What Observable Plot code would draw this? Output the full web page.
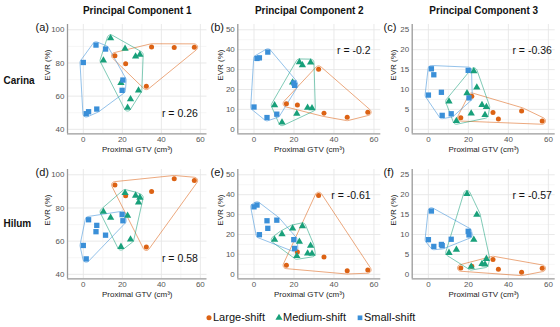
<!DOCTYPE html>
<html><head><meta charset="utf-8">
<script src="https://cdn.jsdelivr.net/npm/d3@7"></script>
<script src="https://cdn.jsdelivr.net/npm/@observablehq/plot@0.6"></script>
<style>
body{margin:0;background:#fff;font-family:"Liberation Sans",Arial,sans-serif;}
#wrap{position:relative;width:560px;height:327px;overflow:hidden;background:#fff;}
.panel{position:absolute;}
.panel svg{overflow:visible !important;background:transparent !important;max-width:none !important;}
#legend{position:absolute;top:311px;left:206px;display:flex;align-items:center;font-size:11px;color:#111;white-space:nowrap;}
#legend .item{display:flex;align-items:center;margin-right:11px;}
#legend .sym{display:inline-block;margin-right:1px;}
</style></head>
<body><div id="wrap"></div>
<script>
// ---- data ----
const groups = ["Large-shift", "Medium-shift", "Small-shift"];
const colors = ["#DC6214", "#18A07A", "#3A8FD8"];
const symbols = ["circle", "triangle", "square"];
const rowNames = ["Carina", "Hilum"];
const colTitles = ["Principal Component 1", "Principal Component 2", "Principal Component 3"];
const panelLetters = [["(a)", "(b)", "(c)"], ["(d)", "(e)", "(f)"]];
const rLabels = [["r = 0.26", "r = -0.2", "r = -0.36"], ["r = 0.58", "r = -0.61", "r = -0.57"]];

// Proximal GTV (cm3) per patient in each group
const gtvLarge = [16.2, 21.7, 32.3, 35.0, 46.6, 56.9];
const gtvMedium = [10.3, 14.0, 19.3, 21.4, 22.7, 24.2, 26.8, 28.3, 29.0];
const gtvSmall = [0.0, 1.5, 2.7, 6.5, 6.9, 11.4, 19.9, 20.3];

// EVR (%) — Carina
const carinaPC1Large = [84.3, 79.5, 65.9, 89.6, 89.4, 89.5];
const carinaPC1Medium = [81.5, 95.0, 68.0, 88.6, 53.0, 58.2, 83.9, 63.5, 85.0];
const carinaPC1Small = [80.3, 49.4, 50.6, 90.8, 52.2, 88.4, 63.5, 69.7];
const carinaPC2Large = [12.9, 12.2, 30.2, 8.1, 6.0, 8.6];
const carinaPC2Medium = [12.1, 3.5, 23.6, 7.9, 33.7, 32.2, 10.9, 33.6, 10.6];
const carinaPC2Small = [11.2, 35.6, 35.9, 5.9, 38.8, 7.6, 23.3, 22.1];
const carinaPC3Large = [2.9, 8.3, 4.2, 2.6, 4.6, 2.1];
const carinaPC3Medium = [7.0, 2.1, 9.1, 4.0, 14.6, 10.5, 6.1, 3.6, 5.6];
const carinaPC3Small = [8.6, 15.2, 13.7, 9.3, 3.5, 3.9, 14.8, 7.9];
// EVR (%) — Hilum
const hilumPC1Large = [93.9, 87.3, 56.4, 89.9, 97.6, 96.5];
const hilumPC1Medium = [77.8, 74.1, 56.6, 89.1, 75.4, 61.0, 87.5, 83.4, 86.3];
const hilumPC1Small = [57.4, 49.3, 72.9, 65.7, 69.5, 63.6, 76.0, 72.3];
const hilumPC2Large = [4.5, 11.2, 39.6, 8.7, 1.8, 2.2];
const hilumPC2Medium = [17.4, 20.2, 23.1, 9.2, 16.4, 24.2, 10.5, 14.4, 10.4];
const hilumPC2Small = [33.9, 34.8, 19.9, 26.9, 23.1, 27.2, 17.4, 13.0];
const hilumPC3Large = [1.6, 2.0, 3.7, 1.3, 0.5, 1.5];
const hilumPC3Medium = [5.4, 6.2, 20.2, 1.9, 8.7, 15.0, 2.6, 2.5, 3.9];
const hilumPC3Small = [8.7, 15.9, 7.0, 7.5, 7.2, 8.8, 10.8, 9.9];

const xTicks = [0, 20, 40, 60];
const xMinor = [10, 30, 50];
const yTicksByCol = [[40, 60, 80, 100], [0, 10, 20, 30, 40, 50], [0, 5, 10, 15, 20, 25]];
const yMinorByCol = [[50, 70, 90], [5, 15, 25, 35, 45], [2.5, 7.5, 12.5, 17.5, 22.5]];

const gtv = [gtvLarge, gtvMedium, gtvSmall];
const evr = [
  [[carinaPC1Large, carinaPC1Medium, carinaPC1Small], [carinaPC2Large, carinaPC2Medium, carinaPC2Small], [carinaPC3Large, carinaPC3Medium, carinaPC3Small]],
  [[hilumPC1Large, hilumPC1Medium, hilumPC1Small], [hilumPC2Large, hilumPC2Medium, hilumPC2Small], [hilumPC3Large, hilumPC3Medium, hilumPC3Small]]
];

// ---- layout ----
const xDomain = [-8.1, 63.4];
const cols = [
  {left: 0, ml: 67, fw: 139.5, mr: 11.5, ydom: [37.3, 103.2], ylabDx: -20.3, letterDx: -32, rx: 58.7, ry: 49.6},
  {left: 218, ml: 19.3, fw: 143, mr: 11.7, ydom: [-2.26, 52.66], ylabDx: -17.3, letterDx: -27.3, rx: 58.3, ry: 39.5},
  {left: 392, ml: 19.7, fw: 143, mr: 5.3, ydom: [-1.13, 26.33], ylabDx: -18.4, letterDx: -28.7, rx: 61.7, ry: 19.8}
];
const rows = [{top: 0}, {top: 145}];
const MT = 24, FH = 109.3, MB = 30;

// rounded, slightly expanded convex hull (computed in pixel space)
function roundedHull(xs, ys, kx, ky, rad) {
  const pts = xs.map((x, i) => [x * kx, ys[i] * ky]);
  const h = d3.polygonHull(pts);
  const n = h.length;
  let area = 0;
  for (let i = 0; i < n; i++) { const j = (i + 1) % n; area += h[i][0] * h[j][1] - h[j][0] * h[i][1]; }
  const ccw = area > 0;
  const out = [];
  const norm = (e) => { const l = Math.hypot(e[0], e[1]); return ccw ? [e[1] / l, -e[0] / l] : [-e[1] / l, e[0] / l]; };
  for (let i = 0; i < n; i++) {
    const p = h[(i - 1 + n) % n], c = h[i], q = h[(i + 1) % n];
    const n1 = norm([c[0] - p[0], c[1] - p[1]]), n2 = norm([q[0] - c[0], q[1] - c[1]]);
    let a1 = Math.atan2(n1[1], n1[0]), a2 = Math.atan2(n2[1], n2[0]);
    if (ccw) { while (a2 < a1) a2 += 2 * Math.PI; } else { while (a2 > a1) a2 -= 2 * Math.PI; }
    const steps = 10;
    for (let s = 0; s <= steps; s++) {
      const a = a1 + (a2 - a1) * s / steps;
      out.push({x: (c[0] + rad * Math.cos(a)) / kx, y: (c[1] + rad * Math.sin(a)) / ky});
    }
  }
  return out;
}

const wrap = document.getElementById("wrap");
rows.forEach((row, ri) => {
  cols.forEach((col, ci) => {
    const kx = col.fw / (xDomain[1] - xDomain[0]);
    const ky = FH / (col.ydom[1] - col.ydom[0]);
    const marks = [
      Plot.ruleX(xMinor, {stroke: "#f0f0f0", strokeWidth: 0.6}),
      Plot.ruleY(yMinorByCol[ci], {stroke: "#f0f0f0", strokeWidth: 0.6}),
      Plot.ruleX(xTicks, {stroke: "#e6e6e6", strokeWidth: 0.9}),
      Plot.ruleY(yTicksByCol[ci], {stroke: "#e6e6e6", strokeWidth: 0.9}),
      Plot.ruleX([xDomain[0]], {stroke: "#9a9a9a", strokeWidth: 1.3}),
      Plot.ruleY([col.ydom[0]], {stroke: "#9a9a9a", strokeWidth: 1.3})
    ];
    groups.forEach((g, gi) => {
      marks.push(Plot.line(roundedHull(gtv[gi], evr[ri][ci][gi], kx, ky, 3.3), {
        x: "x", y: "y", stroke: colors[gi], strokeOpacity: 0.55, strokeWidth: 1, curve: "linear-closed"
      }));
    });
    groups.forEach((g, gi) => {
      const data = gtv[gi].map((x, i) => ({x, y: evr[ri][ci][gi][i]}));
      marks.push(Plot.dot(data, {
        x: "x", y: "y", symbol: symbols[gi], fill: colors[gi], stroke: "none",
        r: gi === 0 ? 2.5 : gi === 1 ? 2.7 : 3.0
      }));
    });
    marks.push(
      Plot.text([rLabels[ri][ci]], {x: col.rx, y: col.ry, text: d => d, textAnchor: "end", fontSize: 10.5, fill: "#111"}),
      Plot.text([panelLetters[ri][ci]], {frameAnchor: "top-left", text: d => d, textAnchor: "start", dx: col.letterDx, dy: -1.4, fontSize: 11, fill: "#111"}),
      Plot.text(["EVR (%)"], {frameAnchor: "left", text: d => d, rotate: -90, dx: col.ylabDx, dy: 1.5, fontSize: 8, fill: "#222"}),
      Plot.text(["Proximal GTV (cm³)"], {frameAnchor: "bottom", text: d => d, dy: 18.7, fontSize: 8, fill: "#222"})
    );
    if (ri === 0) {
      marks.push(Plot.text([colTitles[ci]], {frameAnchor: "top", text: d => d, dy: -17.2, fontSize: 10, fontWeight: "bold", fill: "#111"}));
    }
    if (ci === 0) {
      marks.push(Plot.text([rowNames[ri]], {frameAnchor: "left", text: d => d, textAnchor: "start", dx: -64, dy: ri === 0 ? 1.5 : -0.8, fontSize: 10, fontWeight: "bold", fill: "#111"}));
    }
    const chart = Plot.plot({
      width: col.ml + col.fw + col.mr,
      height: MT + FH + MB,
      marginLeft: col.ml, marginRight: col.mr, marginTop: MT, marginBottom: MB,
      style: {background: "transparent", overflow: "visible", fontFamily: "'Liberation Sans', Arial, sans-serif", fontSize: "8px", color: "#555"},
      x: {domain: xDomain, ticks: xTicks, tickSize: 0, tickPadding: 3, label: null, tickFormat: d => String(d)},
      y: {domain: col.ydom, ticks: yTicksByCol[ci], tickSize: 0, tickPadding: 3, label: null, tickFormat: d => String(d)},
      marks
    });
    const div = document.createElement("div");
    div.className = "panel";
    div.style.left = col.left + "px";
    div.style.top = row.top + "px";
    div.appendChild(chart);
    wrap.appendChild(div);
  });
});

// legend
const legend = document.createElement("div");
legend.id = "legend";
groups.forEach((g, gi) => {
  const item = document.createElement("span");
  item.className = "item";
  const svgNS = "http://www.w3.org/2000/svg";
  const s = document.createElementNS(svgNS, "svg");
  s.setAttribute("width", 6); s.setAttribute("height", 7);
  s.setAttribute("class", "sym");
  s.style.overflow = "visible";
  const sym = d3.symbol(gi === 0 ? d3.symbolCircle : gi === 1 ? d3.symbolTriangle : d3.symbolSquare, gi === 0 ? 20 : 22)();
  const p = document.createElementNS(svgNS, "path");
  p.setAttribute("d", sym); p.setAttribute("transform", "translate(3,3.8)"); p.setAttribute("fill", colors[gi]);
  s.appendChild(p);
  item.appendChild(s);
  const t = document.createElement("span");
  t.textContent = g;
  item.appendChild(t);
  legend.appendChild(item);
});
wrap.appendChild(legend);
</script>
</body></html>
